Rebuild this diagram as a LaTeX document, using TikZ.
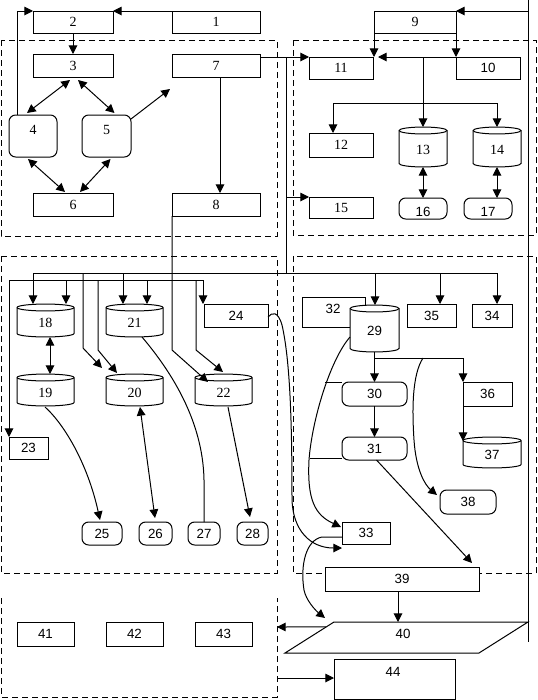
\documentclass[tikz,border=0pt]{standalone}
\usepackage{fontspec}
\setmainfont{Liberation Serif}
\newfontfamily\arialfont{Liberation Sans}
\usetikzlibrary{arrows.meta,calc}
\newcommand{\serf}{\fontsize{10.5}{12}\selectfont}
\newcommand{\sanf}{\arialfont\fontsize{10}{12}\selectfont}
\newcommand{\bx}[7]{%
 \pgfmathsetmacro{\bxcx}{(#3+#5)/2}%
 \pgfmathsetmacro{\bxcy}{(#4+#6)/2}%
 \pgfmathsetmacro{\bxw}{(#5-#3)*0.75}%
 \pgfmathsetmacro{\bxh}{(#6-#4)*0.75}%
 \node[#1,minimum width=\bxw pt,minimum height=\bxh pt] (#2) at (\bxcx,\bxcy) {#7};}
\newcommand{\cyl}[7]{%
 \pgfmathsetmacro{\cyrx}{(#4-#2)*0.375}%
 \draw[fill=white] (#2,#3+3.5) -- (#2,#5-3.5) arc[start angle=180,end angle=360,x radius=\cyrx pt,y radius=2.6pt] -- (#4,#3+3.5) arc[start angle=0,end angle=180,x radius=\cyrx pt,y radius=2.6pt] -- cycle;
 \draw (#2,#3+3.5) arc[start angle=180,end angle=360,x radius=\cyrx pt,y radius=2.6pt];
 \bx{lbl}{#1}{#2}{#3}{#4}{#5}{}%
 \node[lbl,font=#7] (l#1) at ($(#1.center)+(0,2.5)$) {#6};}
\begin{document}
\begin{tikzpicture}[x=0.75pt,y=-0.75pt,line width=0.75pt,>={Triangle[length=6.5pt,width=6.5pt]},
 region/.style={dash pattern=on 4.5pt off 3pt},
 sbox/.style={draw,fill=white,inner sep=0pt,outer sep=0pt,font=\serf},
 abox/.style={draw,fill=white,inner sep=0pt,outer sep=0pt,font=\sanf},
 rbox/.style={abox,rounded corners=5pt},
 rsbox/.style={sbox,rounded corners=5pt},
 lbl/.style={inner sep=0pt,outer sep=0pt}]
\useasboundingbox (0,0) rectangle (537,700);
% regions
\draw[region] (1,40) rectangle (277,236);
\draw[region] (293,40) rectangle (536,235);
\draw[region] (1,256) rectangle (277,573);
\draw[region] (293,256) rectangle (536,573);
\draw[region] (1,598) -- (1,697) -- (277,697) -- (277,598);
% nodes top-left
\bx{sbox}{n1}{172}{11}{260}{33}{1}
\bx{sbox}{n2}{33}{11}{113}{33}{2}
\bx{sbox}{n3}{33}{54}{113}{77}{3}
\bx{sbox}{n7}{172}{54}{260}{77}{7}
\bx{rsbox}{n4}{9}{115}{57}{157}{}
\node[lbl,font=\serf] (l4) at ($(n4.center)+(0,-6)$) {4};
\bx{rsbox}{n5}{82}{115}{131}{157}{}
\node[lbl,font=\serf] (l5) at ($(n5.center)+(0,-6)$) {5};
\bx{sbox}{n6}{33}{193}{113}{216}{6}
\bx{sbox}{n8}{172}{193}{260}{216}{8}
% nodes top-right
\bx{sbox}{n9}{374}{11}{456}{33}{9}
\bx{sbox}{n11}{309}{57}{373}{79}{11}
\bx{abox}{n10}{456}{57}{520}{79}{10}
\bx{sbox}{n12}{309}{133}{373}{157}{12}
\cyl{n13}{399}{127}{447}{167}{13}{\serf}
\cyl{n14}{473}{127}{521}{167}{14}{\serf}
\bx{sbox}{n15}{309}{197}{373}{218}{15}
\bx{rbox}{n16}{399}{198}{447}{219}{}
\node[lbl,font=\sanf] (l16) at ($(n16.center)+(0,3)$) {16};
\bx{rbox}{n17}{464}{198}{512}{219}{}
\node[lbl,font=\sanf] (l17) at ($(n17.center)+(0,3)$) {17};
% nodes bottom-left
\cyl{n18}{17}{304}{74}{337}{18}{\serf}
\cyl{n19}{17}{374}{74}{406}{19}{\serf}
\cyl{n20}{106}{374}{163}{406}{20}{\serf}
\cyl{n21}{106}{304}{163}{337}{21}{\serf}
\cyl{n22}{195}{374}{252}{406}{22}{\serf}
\bx{abox}{n23}{9}{437}{48}{459}{23}
\bx{abox}{n24}{204}{304}{268}{327}{24}
\bx{rbox}{n25}{82}{522}{122}{545}{25}
\bx{rbox}{n26}{139}{522}{172}{545}{26}
\bx{rbox}{n27}{188}{522}{220}{545}{27}
\bx{rbox}{n28}{237}{522}{268}{545}{28}
% nodes bottom-right
\bx{abox}{n32}{302}{297}{365}{327}{}
\node[lbl,font=\sanf] (l32) at (333,309) {32};
\cyl{n29}{350}{305}{399}{352}{29}{\sanf}
\bx{abox}{n35}{407}{304}{456}{327}{35}
\bx{abox}{n34}{472}{304}{512}{327}{34}
\bx{rbox}{n30}{342}{382}{407}{406}{30}
\bx{rbox}{n31}{342}{437}{407}{460}{31}
\bx{abox}{n36}{463}{382}{512}{406}{36}
\cyl{n37}{463}{437}{521}{468}{37}{\sanf}
\bx{rbox}{n38}{440}{490}{496}{514}{38}
\bx{abox}{n33}{342}{522}{390}{544}{33}
\bx{abox}{n39}{325}{567}{479}{591}{39}
% bottom
\coordinate (p40tl) at (334,622);
\coordinate (p40tr) at (528,622);
\coordinate (p40br) at (479,653);
\coordinate (p40bl) at (285,653);
\draw[fill=white] (p40tl) -- (p40tr) -- (p40br) -- (p40bl) -- cycle;
\node[lbl,font=\sanf] (n40) at (403,634) {40};
\bx{abox}{n41}{17}{622}{74}{646}{41}
\bx{abox}{n42}{106}{622}{163}{646}{42}
\bx{abox}{n43}{195}{622}{252}{646}{43}
\bx{abox}{n44}{334}{659}{455}{699}{}
\node[lbl,font=\sanf] (l44) at (393,672) {44};
% ---------------- connectors top-left
\draw[->] (n1.north west) -- (n2.north east);
\draw[->] ($(n4.north west)+(8,0)$) |- (n2.north west);
\draw[->] (n2.south) -- (n3.north);
\draw[<->] ($(n3.south)+(-3,3)$) -- ($(n4.north)+(-6,-2)$);
\draw[<->] ($(n3.south)+(5,3)$) -- ($(n5.north)+(8,-2)$);
\draw[->] ($(n5.north east)+(0,4)$) -- ($(n7.south west)+(-2,12)$);
\draw[<->] ($(n4.south)+(-5,2)$) -- ($(n6.north)+(-8,-1)$);
\draw[<->] ($(n5.south)+(4,2)$) -- ($(n6.north)+(7,-1)$);
\draw[->] ($(n7.south)+(4,0)$) -- ($(n8.north)+(4,0)$);
\draw[->] (n7.east |- n11.north west) -- (n11.north west);
\coordinate (j1) at (286,57);
\coordinate (j2) at (286,273);
\draw (j1) -- (j2);
\draw[->] (j1 |- n15.north west) -- (n15.north west);
% ---------------- connectors top-right
\coordinate (vtop) at (528,0);
\coordinate (vbot) at (528,642);
\draw (vtop) -- (vbot);
\draw[->] (vtop |- n9.north east) -- (n9.north east);
\draw[->] (n9.south west) -- (n9.south west |- n11.north);
\draw[->] (n9.south east) -- (n10.north west);
\draw[->] (n10.north west) -- ($(n11.north east)+(5,0)$);
\draw[->] (n13.north |- n10.north) -- (n13.north);
\coordinate (b12) at (333,103);
\draw (b12) -- (n14.north |- b12);
\draw[->] (b12) -- (b12 |- n12.north);
\draw[->] (n14.north |- b12) -- (n14.north);
\draw[<->] (n13.south) -- (n16.north);
\draw[<->] (n14.south) -- (n14.south |- n17.north);
% ---------------- buses
\coordinate (a18) at (33,273);
\coordinate (a20) at (83,273);
\coordinate (a21) at (123,273);
\coordinate (a29) at (375,273);
\coordinate (a35) at (440,273);
\coordinate (a34) at (497,273);
\draw (a18) -- (a34);
\draw[->] (a18) -- (a18 |- n18.north);
\draw[->] (a21) -- (a21 |- n21.north);
\draw[->] (a29) -- (a29 |- n29.north);
\draw[->] (a35) -- (a35 |- n35.north);
\draw[->] (a34) -- (a34 |- n34.north);
\draw[->] (a20) -- ++(0,75) -- ($(n20.north west)+(-4,-6)$);
\coordinate (c23) at (9,280);
\coordinate (c18) at (66,280);
\coordinate (c20) at (98,280);
\coordinate (c21) at (147,280);
\coordinate (c22) at (196,280);
\coordinate (c24) at (203,280);
\draw (c23) -- (c24);
\draw[->] (c23) -- (c23 |- n23.north);
\draw[->] (c18) -- (c18 |- n18.north);
\draw[->] (c20) -- ++(0,70) -- ($(n20.north west)+(11,-1)$);
\draw[->] (c21) -- (c21 |- n21.north);
\draw[->] (c22) -- ++(0,70) -- ($(n22.north west)+(28,-2)$);
\draw[->] (c24) -- (c24 |- n24.north);
\draw[->] (n8.south west) -- ++(0,134) -- ($(n22.north west)+(13,8)$);
% ---------------- bottom-left
\draw[<->] ($(n18.south)+(4.5,0)$) -- ($(n19.north)+(4.5,0)$);
\draw[->] ($(n19.south)+(-0.5,1)$) .. controls (65,425) and (88,465) .. ($(n25.north)+(-2,-2)$);
\draw[<->] ($(n20.south)+(5.5,1)$) -- ($(n26.north)+(-0.5,-4)$);
\draw ($(n21.south)+(7.5,0)$) .. controls (170,370) and (203,420) .. (204,480) -- (n27.north);
\draw[->] ($(n22.south)+(4.5,1)$) -- ($(n28.north)+(-2.5,-5)$);
\draw[->] ($(n24.east)+(0,1.5)$) .. controls (272,312) and (278,311) .. (282,325) .. controls (290,360) and (292,420) .. (292,500) .. controls (293,530) and (310,548) .. ($(n33.south west)+(0,4)$);
% ---------------- bottom-right
\draw[->] (n29.south) -- (n30.north);
\coordinate (d1) at (375,358);
\coordinate (d2) at (463,358);
\draw (d1) -- (d2);
\draw[->] (d2) -- (n36.north west);
\draw[->] (n36.north west) -- ($(n37.north west)+(0,4)$);
\draw[->] (n30.south) -- (n31.north);
\draw[->] ($(n29.west)+(0,8.5)$) .. controls (330,360) and (312,420) .. (309,460) .. controls (307,500) and (315,515) .. ($(n33.north west)+(-1,5)$);
\draw (n30.north west) -- ++(-17,0);
\draw ($(n31.south west)+(0,-2)$) -- ++(-32,0);
\draw[->] ($(d1)+(48,0)$) .. controls (412,375) and (412,410) .. (414,440) .. controls (416,470) and (425,485) .. ($(n38.west)+(-3,-7)$);
\draw[->] ($(n31.south)+(2,0)$) -- ($(n39.north east)+(-7,-4)$);
\draw[->] ($(n33.west)+(0,4)$) -- ++(-20,0) .. controls (306,540) and (300,565) .. (304,590) .. controls (306,600) and (315,610) .. ($(p40tl)+(-9,-4)$);
\draw[->] ($(n39.south)+(-4,0)$) -- ++(0,31);
\coordinate (r4a) at (277,627);
\coordinate (r4b) at (277,678);
\draw[->] ($(p40bl)!0.84!(p40tl)$) -- (r4a);
\draw[->] (r4b) -- (n44.west |- r4b);
\end{tikzpicture}
\end{document}
